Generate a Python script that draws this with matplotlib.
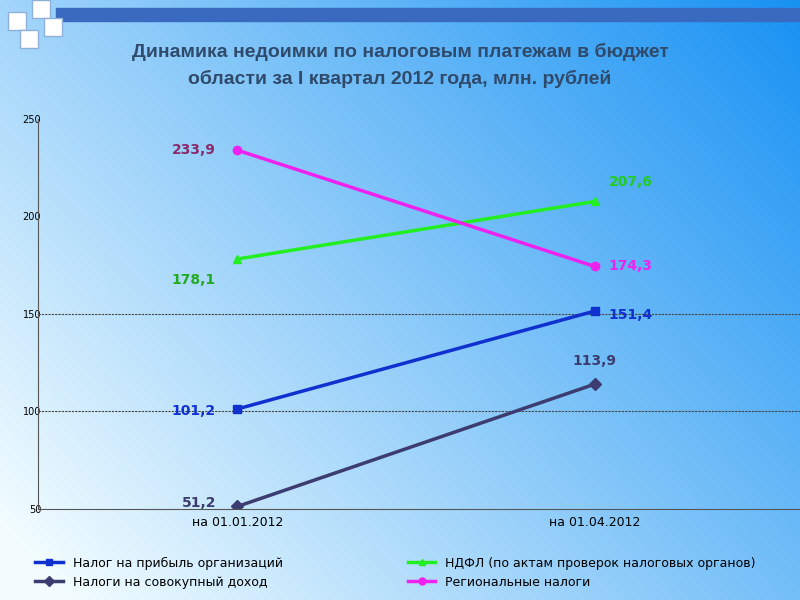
import matplotlib
matplotlib.use("Agg")
import matplotlib.pyplot as plt
import numpy as np
from matplotlib.lines import Line2D

categories = ["на 01.01.2012", "на 01.04.2012"]
profit = [101.2, 151.4]
ndfl = [178.1, 207.6]
total_income = [51.2, 113.9]
regional = [233.9, 174.3]
labels = ["Налог на прибыль организаций", "НДФЛ (по актам проверок налоговых органов)",
          "Налоги на совокупный доход", "Региональные налоги"]

fig = plt.figure(figsize=(8, 6), dpi=100)
bg = fig.add_axes([0, 0, 1, 1])
x = np.linspace(0, 1, 200)
y = np.linspace(0, 1, 150)
X, Y = np.meshgrid(x, y)
t = np.clip(0.6 * X + 0.4 * Y - 0.05, 0, 1)
c0 = np.array([0.95, 0.99, 1.0]); c1 = np.array([0.05, 0.55, 0.95])
img = c0[None, None, :] * (1 - t[..., None]) + c1[None, None, :] * t[..., None]
bg.imshow(img, extent=[0, 1, 0, 1], aspect="auto", origin="lower")
bg.add_patch(plt.Rectangle((0.07, 0.965), 0.93, 0.022, color="#3a6ac0", transform=bg.transAxes))
for (xx, yy) in [(0.01, 0.95), (0.04, 0.97), (0.025, 0.92), (0.055, 0.94)]:
    bg.add_patch(plt.Rectangle((xx, yy), 0.022, 0.03, facecolor="white", edgecolor="#8fb0d8", transform=bg.transAxes))
bg.axis("off")

fig.text(0.5, 0.905, "Динамика недоимки по налоговым платежам в бюджет", ha="center",
         fontsize=14, fontweight="bold", color="#2f4a6b", family="Liberation Sans")
fig.text(0.5, 0.86, "области за I квартал 2012 года, млн. рублей", ha="center",
         fontsize=14, fontweight="bold", color="#2f4a6b", family="Liberation Sans")

ax = fig.add_axes([0.048, 0.152, 0.952, 0.65])
ax.patch.set_alpha(0)
xs = [0.5, 1.5]
ax.set_xlim(-0.057, 2.075)
ax.set_ylim(50, 250)
ax.set_yticks([50, 100, 150, 200, 250])
ax.tick_params(axis="y", labelsize=7, length=0, pad=-2)
ax.set_xticks(xs)
ax.set_xticklabels(categories, fontsize=9)
ax.tick_params(axis="x", length=0, pad=5)
for s in ["top", "right"]:
    ax.spines[s].set_visible(False)
ax.spines["left"].set_color("#555")
ax.spines["bottom"].set_color("#555")
for yv in [100, 150]:
    ax.axhline(yv, color="#444", lw=0.8, ls=(0, (2, 1)))

series = [(profit, "#1030d0", "s", labels[0]), (ndfl, "#22ee22", "^", labels[1]),
          (total_income, "#3c3c70", "D", labels[2]), (regional, "#ee22ee", "o", labels[3])]
for vals, col, m, lab in series:
    ax.plot(xs, vals, color=col, marker=m, lw=2.5, ms=6, label=lab)

def fmt(v): return f"{v:.1f}".replace(".", ",")
kw = dict(fontsize=10, fontweight="bold")
ax.text(0.44, regional[0], fmt(regional[0]), color="#8a2a6a", ha="right", va="center", **kw)
ax.text(1.54, regional[1], fmt(regional[1]), color="#ee22ee", ha="left", va="center", **kw)
ax.text(0.44, ndfl[0] - 11, fmt(ndfl[0]), color="#22aa22", ha="right", va="center", **kw)
ax.text(1.54, ndfl[1] + 10, fmt(ndfl[1]), color="#22cc22", ha="left", va="center", **kw)
ax.text(0.44, profit[0] - 1, fmt(profit[0]), color="#1030d0", ha="right", va="center", **kw)
ax.text(1.54, profit[1] - 2, fmt(profit[1]), color="#1030d0", ha="left", va="center", **kw)
ax.text(0.44, total_income[0] + 2, fmt(total_income[0]), color="#3c3c70", ha="right", va="center", **kw)
ax.text(1.5, total_income[1] + 12, fmt(total_income[1]), color="#3c3c70", ha="center", va="center", **kw)

handles = [Line2D([0], [0], color=c, marker=m, lw=2.5, ms=5) for _, c, m, _ in series]
order = [0, 2, 1, 3]
fig.legend([handles[i] for i in order], [labels[i] for i in order], loc="lower left",
           bbox_to_anchor=(0.03, 0.0), ncol=2, frameon=False, fontsize=9,
           handlelength=2.2, columnspacing=10, labelspacing=0.5)
fig.savefig("out.png", dpi=100)
